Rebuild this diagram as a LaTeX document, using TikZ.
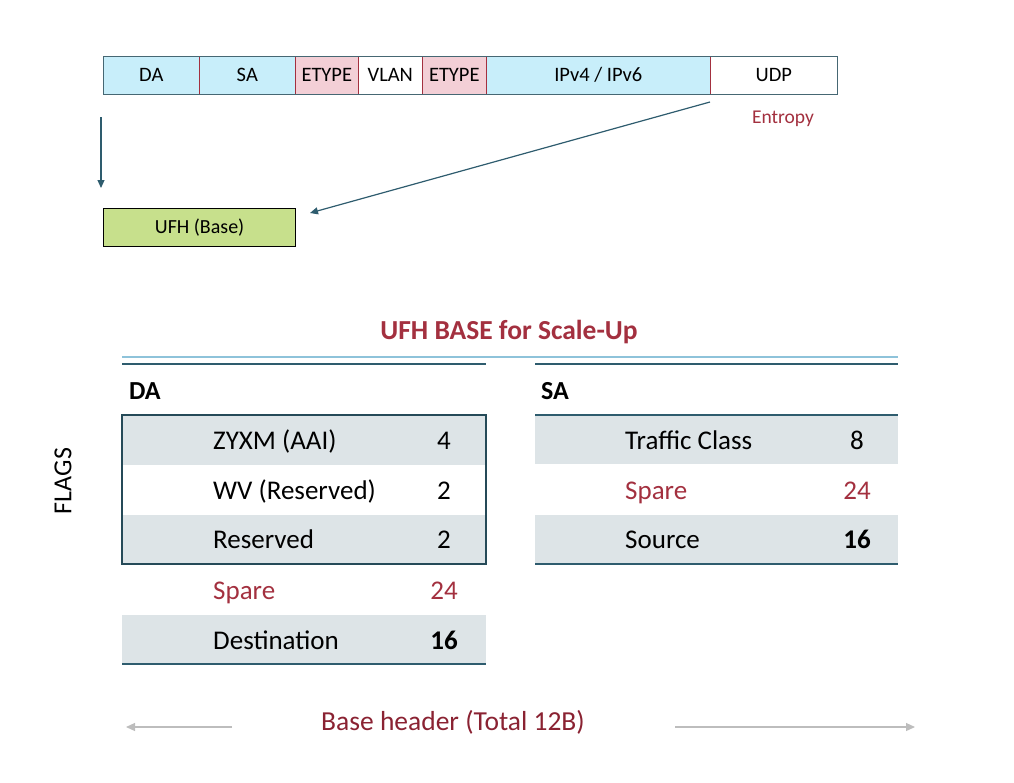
\documentclass[tikz,border=0pt]{standalone}
\usepackage{fontspec}
\setmainfont{Carlito}
\usetikzlibrary{arrows.meta}
\definecolor{lblue}{HTML}{C8EEFA}
\definecolor{lpink}{HTML}{F3CFD6}
\definecolor{lgreen}{HTML}{C7E08C}
\definecolor{dred}{HTML}{A3303F}
\definecolor{mred}{HTML}{8A2232}
\definecolor{teal}{HTML}{2E5C6E}
\definecolor{sky}{HTML}{8EC3DA}
\definecolor{rowgray}{HTML}{DDE4E7}
\definecolor{arrgray}{HTML}{BDBDBD}
\tikzset{
  fld/.style={minimum height=38pt, inner sep=0pt, font=\fontsize{20.5}{20.5}\selectfont, draw=dred, line width=0.6pt},
  flow/.style={draw=teal, line width=1.2pt, -{Triangle[length=8pt,width=7pt]}},
  rowtxt/.style={anchor=base west, inner sep=0pt, font=\fontsize{27}{27}\selectfont},
  rownum/.style={anchor=base, inner sep=0pt, font=\fontsize{27}{27}\selectfont},
  sparetxt/.style={text=dred},
  hdr/.style={anchor=west, inner sep=0pt, font=\fontsize{26}{26}\selectfont\bfseries},
  tline/.style={draw=teal, line width=1.6pt},
  garrow/.style={draw=arrgray, line width=1.2pt, -{Triangle[length=9pt,width=8pt]}}
}
\begin{document}
\begin{tikzpicture}[x=1pt,y=-1pt]
\useasboundingbox (0,0) rectangle (1014,782);
% top bar
\node[fld, fill=lblue, minimum width=96pt, anchor=north west] (da) at (103,56) {DA};
\node[fld, fill=lblue, minimum width=96pt, anchor=north west] (sa) at (199,56) {SA};
\node[fld, fill=lpink, minimum width=63pt, anchor=north west] (et1) at (295,56) {ETYPE};
\node[fld, fill=white, minimum width=64pt, anchor=north west] (vlan) at (358,56) {VLAN};
\node[fld, fill=lpink, minimum width=64pt, anchor=north west] (et2) at (422,56) {ETYPE};
\node[fld, fill=lblue, minimum width=224pt, anchor=north west] (ip) at (486,56) {IPv4 / IPv6};
\node[fld, fill=white, minimum width=127pt, anchor=north west] (udp) at (710,56) {UDP};
\draw[teal!70!gray, line width=1pt] (103,56) rectangle (837,94);
\node[text=dred, font=\fontsize{19.5}{19.5}\selectfont] (ent) at (783,119) {Entropy};
% UFH base
\node[draw=black, line width=1.2pt, fill=lgreen, minimum width=192pt, minimum height=38pt, inner sep=0pt, anchor=north west, font=\fontsize{20}{20}\selectfont] (ufh) at (103,208) {UFH (Base)};
\coordinate (a1s) at (101,117);
\coordinate (a1e) at (101,188);
\draw[flow] (a1s) -- (a1e);
\coordinate (a2s) at (710,102);
\coordinate (a2e) at (310,213);
\draw[flow] (a2s) -- (a2e);
% title
\node[text=dred, font=\fontsize{27.5}{27.5}\selectfont\bfseries] (title) at (509,332) {UFH BASE for Scale-Up};
\draw[draw=sky, line width=2pt] (122,357) -- (898,357);
\draw[tline] (122,364) -- (486,364);
\draw[tline] (535,364) -- (898,364);
\node[hdr] (dah) at (129,391) {DA};
\node[hdr] (sah) at (541,391) {SA};
% DA table
\fill[rowgray] (122,415) rectangle (486,465);
\fill[rowgray] (122,515) rectangle (486,564);
\fill[rowgray] (122,615) rectangle (486,664);
\draw[teal!80!black, line width=1.6pt] (122,415) rectangle (486,564);
\draw[tline] (122,664) -- (486,664);
\node[rowtxt] (r1) at (213,449) {ZYXM (AAI)};
\node[rownum] (n1) at (444,449) {4};
\node[rowtxt] (r2) at (213,499) {WV (Reserved)};
\node[rownum] (n2) at (444,499) {2};
\node[rowtxt] (r3) at (213,548) {Reserved};
\node[rownum] (n3) at (444,548) {2};
\node[rowtxt, sparetxt] (r4) at (213,599) {Spare};
\node[rownum, sparetxt] (n4) at (444,599) {24};
\node[rowtxt] (r5) at (213,649) {Destination};
\node[rownum, font=\fontsize{27}{27}\selectfont\bfseries] (n5) at (444,649) {16};
% SA table
\fill[rowgray] (535,415) rectangle (898,464);
\fill[rowgray] (535,515) rectangle (898,564);
\draw[tline] (535,415) -- (898,415);
\draw[tline] (535,564) -- (898,564);
\node[rowtxt] (s1) at (625,449) {Traffic Class};
\node[rownum] (m1) at (857,449) {8};
\node[rowtxt, sparetxt] (s2) at (625,499) {Spare};
\node[rownum, sparetxt] (m2) at (857,499) {24};
\node[rowtxt] (s3) at (625,548) {Source};
\node[rownum, font=\fontsize{27}{27}\selectfont\bfseries] (m3) at (857,548) {16};
% FLAGS
\node[rotate=90, font=\fontsize{26}{26}\selectfont] (flags) at (63,481) {FLAGS};
% bottom
\node[text=mred, font=\fontsize{27.5}{27.5}\selectfont] (base) at (453,722) {Base header (Total 12B)};
\coordinate (bl1) at (232,727);
\coordinate (bl2) at (126,727);
\coordinate (br1) at (675,727);
\coordinate (br2) at (915,727);
\draw[garrow] (bl1) -- (bl2);
\draw[garrow] (br1) -- (br2);
\end{tikzpicture}
\end{document}
